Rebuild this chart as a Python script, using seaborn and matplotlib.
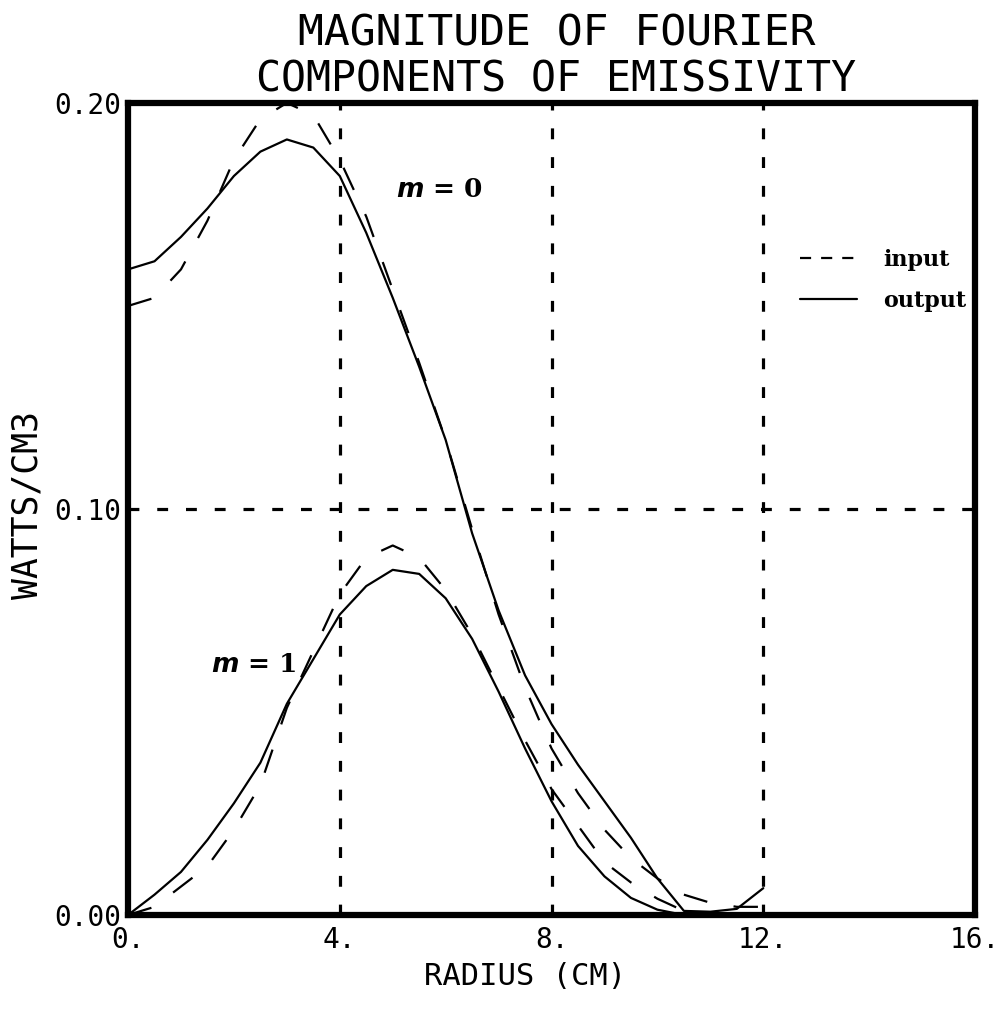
import matplotlib
matplotlib.use("Agg")
import matplotlib.pyplot as plt
from matplotlib.lines import Line2D
import seaborn as sns
import pandas as pd

radius = [0.0, 0.5, 1.0, 1.5, 2.0, 2.5, 3.0, 3.5, 4.0, 4.5, 5.0, 5.5, 6.0,
          6.5, 7.0, 7.5, 8.0, 8.5, 9.0, 9.5, 10.0, 10.5, 11.0, 11.5, 12.0]

m0_input = [0.150, 0.152, 0.159, 0.171, 0.186, 0.196, 0.200, 0.197, 0.186, 0.172,
            0.154, 0.136, 0.117, 0.095, 0.074, 0.056, 0.041, 0.030, 0.021, 0.014,
            0.009, 0.005, 0.003, 0.002, 0.002]
m0_output = [0.159, 0.161, 0.167, 0.174, 0.182, 0.188, 0.191, 0.189, 0.182, 0.168,
             0.152, 0.135, 0.117, 0.094, 0.075, 0.059, 0.047, 0.037, 0.028, 0.019,
             0.009, 0.001, 0.0008, 0.0015, 0.0066]
m1_input = [0.0, 0.002, 0.007, 0.012, 0.021, 0.032, 0.051, 0.065, 0.079, 0.088,
            0.091, 0.088, 0.080, 0.069, 0.056, 0.043, 0.031, 0.022, 0.013, 0.008,
            0.004, 0.001, 0.0, 0.0, 0.0]
m1_output = [0.0, 0.005, 0.0106, 0.0185, 0.0275, 0.0375, 0.052, 0.063, 0.074, 0.081,
             0.085, 0.084, 0.078, 0.068, 0.055, 0.041, 0.028, 0.017, 0.0095, 0.0042,
             0.0013, 0.0, 0.0, 0.0, 0.0]

x_ticks = [0, 4, 8, 12, 16]
x_tick_labels = ["0.", "4.", "8.", "12.", "16."]
y_ticks = [0.0, 0.10, 0.20]
y_tick_labels = ["0.00", "0.10", "0.20"]

sns.set_theme(style="white")
plt.rcParams['font.family'] = ['DejaVu Sans Mono', 'DejaVu Sans']
plt.rcParams['text.color'] = 'black'
plt.rcParams['axes.labelcolor'] = 'black'

fig = plt.figure(figsize=(10.05, 10.09), dpi=100)
ax = fig.add_axes([0.1274, 0.0932, 0.8428, 0.8048])

dash_pat = (11, 12)
for vals, dashed in [(m0_input, True), (m0_output, False), (m1_input, True), (m1_output, False)]:
    df = pd.DataFrame({"r": radius, "v": vals})
    sns.lineplot(data=df, x="r", y="v", ax=ax, color="black", lw=1.6,
                 estimator=None, sort=False)
    ln = ax.lines[-1]
    if dashed:
        ln.set_dashes(dash_pat)

ax.set_xlim(0, 16)
ax.set_ylim(0, 0.20)
for xv in [4, 8, 12]:
    ax.axvline(xv, color="black", lw=2.3, dashes=(3.4, 5.6), zorder=0)
ax.axhline(0.10, color="black", lw=2.3, dashes=(3.4, 5.6), zorder=0)

for s in ax.spines.values():
    s.set_linewidth(4.5)
    s.set_color("black")

ax.set_xticks(x_ticks)
ax.set_xticklabels(x_tick_labels)
ax.set_yticks(y_ticks)
ax.set_yticklabels(y_tick_labels)
ax.tick_params(axis="both", length=0, labelsize=20, colors="black")
ax.tick_params(axis="y", pad=5)
ax.tick_params(axis="x", pad=8)
ax.set_xlabel("RADIUS (CM)", fontsize=22, color="black")
ax.set_ylabel("WATTS/CM3", fontsize=25, color="black")
ax.xaxis.set_label_coords(0.469, -0.058)
ax.yaxis.set_label_coords(-0.099, 0.505)

fig.text(0.554, 1 - 46 / 1009, "MAGNITUDE OF FOURIER", ha="center", va="baseline",
         fontsize=31, color="black")
fig.text(0.553, 1 - 92 / 1009, "COMPONENTS OF EMISSIVITY", ha="center", va="baseline",
         fontsize=30, color="black")

ax.text(5.88, 0.1786, r"$\boldsymbol{m}$ = 0", fontsize=19, family="DejaVu Serif",
        fontweight="bold", ha="center", va="center", color="black")
ax.text(2.38, 0.0616, r"$\boldsymbol{m}$ = 1", fontsize=19, family="DejaVu Serif",
        fontweight="bold", ha="center", va="center", color="black")

handles = [Line2D([0], [0], color="black", lw=1.6, dashes=(5, 4.5)),
           Line2D([0], [0], color="black", lw=1.6)]
leg = ax.legend(handles, ["input", "output"], loc="upper left",
                bbox_to_anchor=(0.793, 0.820), frameon=False, handlelength=2.6,
                borderpad=0, borderaxespad=0,
                prop={"family": "DejaVu Serif", "weight": "bold", "size": 16},
                labelspacing=0.85, handletextpad=1.15)
for t in leg.get_texts():
    t.set_color("black")

fig.savefig("out.png", dpi=100)
